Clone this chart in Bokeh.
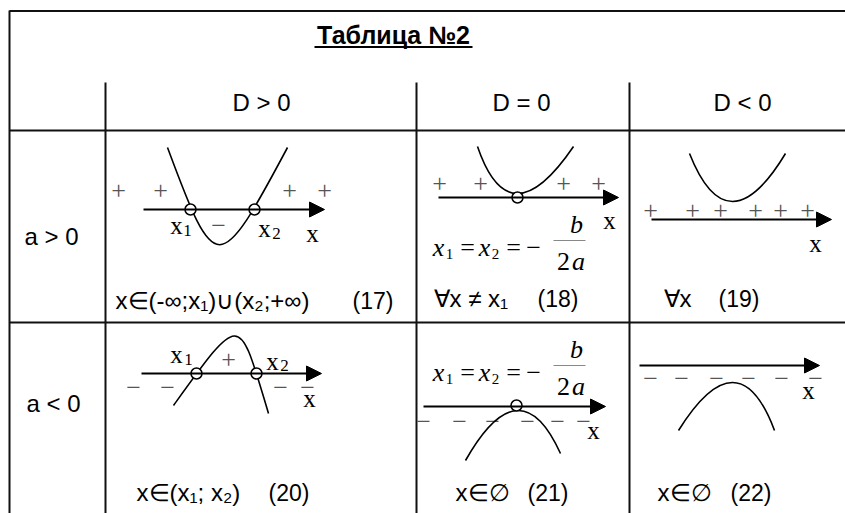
from bokeh.plotting import figure
from bokeh.models import Range1d, ColumnDataSource, Arrow, NormalHead
from bokeh.core.properties import value
from bokeh.embed import file_html
from bokeh.resources import INLINE

# ---------------- texts ----------------
title_text = "Таблица №2"
col_headers = ["D > 0", "D = 0", "D < 0"]
row_headers = ["a > 0", "a < 0"]
ans_expr = ["x∈(-∞;x₁)∪(x₂;+∞)", "∀x ≠ x₁", "∀x", "x∈(x₁; x₂)", "x∈∅", "x∈∅"]
ans_num = ["(17)", "(18)", "(19)", "(20)", "(21)", "(22)"]

# ---------------- table grid (page pixels) ----------------
hrule_y = [10.5, 130, 322]
hrule_x0 = [9, 9, 9]
hrule_x1 = [845, 845, 845]
vrule_x = [9, 105, 416, 629]
vrule_y0 = [10, 82, 82, 82]
vrule_y1 = [513, 513, 513, 513]

title_x, title_y = 393, 34
underline_x0, underline_x1, underline_y = 314, 472, 46.5
col_header_x = [261, 521, 742]
col_header_y = [102, 102, 102]
row_header_x = [51, 53]
row_header_y = [236, 403]
ans_expr_x = [115, 433, 663, 136, 455, 657]
ans_num_x = [352, 537, 718, 268, 527, 730]
ans_y = [300, 298, 298, 492, 492, 492]

# ---------------- number-line axes ----------------
axis_x0 = [143, 438, 651, 141, 423, 639]
axis_x1 = [324, 618, 831, 321, 605, 819]
axis_y = [209, 197, 219, 373, 406, 365]

# ---------------- parabolas ----------------
# skewed ones as cubic curves: (a>0, D>0) and (a<0, D>0)
cub_x0 = [167, 173]
cub_y0 = [147, 405]
cub_cx0 = [215, 242]
cub_cy0 = [276.6, 309]
cub_cx1 = [218, 238]
cub_cy1 = [276.6, 313]
cub_x1 = [287, 268]
cub_y1 = [147, 413]
# symmetric ones as quadratic curves
quad_x0 = [477, 689, 465, 678]
quad_y0 = [146, 153, 460, 430]
quad_cx = [509, 727, 519.5, 738]
quad_cy = [240, 249, 363.5, 334]
quad_x1 = [573, 785, 560, 774]
quad_y1 = [146, 153, 453, 430]

# roots (open circles)
root_x = [190, 254, 517, 196, 256, 516]
root_y = [209, 209, 197, 373, 373, 405]

# sign marks
plus_x = [118, 160, 289, 324, 439, 480, 563, 598, 650, 692, 720, 755, 780, 807, 228]
plus_y = [190, 190, 190, 190, 183, 183, 183, 183, 210, 210, 210, 210, 210, 210, 359]
minus_x = [218, 133, 167, 280, 307, 423, 459, 492, 527, 557, 583, 650, 681, 716, 748, 781, 815]
minus_y = [225, 387, 387, 387, 387, 421, 421, 421, 421, 421, 421, 378, 378, 378, 378, 378, 378]

# variable labels
var_text = ["x", "x", "x", "x", "x", "x", "x", "x", "x", "x"]
var_x = [176, 264, 312, 609, 815, 176, 272, 309, 593, 808]
var_y = [225, 228, 233, 220, 243, 354, 361, 398, 430, 390]
sub_text = ["1", "2", "1", "2"]
sub_x = [187, 276, 188, 284]
sub_y = [230, 233, 359, 365]

# formula  x1 = x2 = -b/2a  (two copies, keyed to fraction bar y)
frac_bar_y = [240, 365]
frac_bar_x0, frac_bar_x1 = 553, 585
f_ital_text = ["x", "x", "b", "a"]
f_ital_x = [438, 484, 576, 578]
f_ital_dy = [7, 7, -16, 21]
f_up_text = ["=", "=", "−", "2"]
f_up_x = [467, 513, 533, 563]
f_up_dy = [7, 7, 7, 21]
f_sub_text = ["1", "2"]
f_sub_x = [449, 495]
f_sub_dy = [13, 13]

SANS = value("Liberation Sans")
SERIF = value("Liberation Serif")

p = figure(width=845, height=513, output_backend="svg", toolbar_location=None,
           x_range=Range1d(0, 845), y_range=Range1d(513, 0),
           min_border=0, outline_line_color=None)
p.axis.visible = False
p.grid.visible = False
p.background_fill_color = "white"
p.border_fill_color = "white"

# grid
p.segment(x0=hrule_x0, y0=hrule_y, x1=hrule_x1, y1=hrule_y, line_color="#111111", line_width=2)
p.segment(x0=vrule_x, y0=vrule_y0, x1=vrule_x, y1=vrule_y1, line_color="#111111", line_width=2)

# title
p.text(x=[title_x], y=[title_y], text=[title_text], text_font=SANS, text_font_style="bold",
       text_font_size="25px", text_align="center", text_baseline="middle", text_color="black")
p.segment(x0=[underline_x0], y0=[underline_y], x1=[underline_x1], y1=[underline_y],
          line_color="black", line_width=2.2)

# headers
p.text(x=col_header_x, y=col_header_y, text=col_headers, text_font=SANS, text_font_size="24px",
       text_align="center", text_baseline="middle", text_color="black")
p.text(x=row_header_x, y=row_header_y, text=row_headers, text_font=SANS, text_font_size="24px",
       text_align="center", text_baseline="middle", text_color="black")

# answers
p.text(x=ans_expr_x, y=ans_y, text=ans_expr, text_font=SANS, text_font_size="24px",
       text_align="left", text_baseline="middle", text_color="black")
p.text(x=ans_num_x, y=ans_y, text=ans_num, text_font=SANS, text_font_size="23px",
       text_align="left", text_baseline="middle", text_color="black")

# signs
p.text(x=plus_x, y=plus_y, text=["+"] * len(plus_x), text_font=SERIF, text_font_size="26px",
       text_align="center", text_baseline="middle", text_color="#555555")
p.text(x=minus_x, y=minus_y, text=["−"] * len(minus_x), text_font=SERIF, text_font_size="26px",
       text_align="center", text_baseline="middle", text_color="#555555")

# curves
p.bezier(x0=cub_x0, y0=cub_y0, x1=cub_x1, y1=cub_y1, cx0=cub_cx0, cy0=cub_cy0,
         cx1=cub_cx1, cy1=cub_cy1, line_color="black", line_width=1.6)
p.quadratic(x0=quad_x0, y0=quad_y0, x1=quad_x1, y1=quad_y1, cx=quad_cx, cy=quad_cy,
            line_color="black", line_width=1.6)

# axes with arrows
src = ColumnDataSource(dict(x0=axis_x0, x1=axis_x1, y=axis_y))
p.add_layout(Arrow(end=NormalHead(size=15, fill_color="black", line_color="black", line_width=1),
                   x_start="x0", y_start="y", x_end="x1", y_end="y", source=src,
                   line_color="black", line_width=2))

# roots
p.scatter(x=root_x, y=root_y, size=11, marker="circle", fill_color="white",
          line_color="black", line_width=1.5)

# variable labels
p.text(x=var_x, y=var_y, text=var_text, text_font=SERIF, text_font_size="25px",
       text_align="center", text_baseline="middle", text_color="black")
p.text(x=sub_x, y=sub_y, text=sub_text, text_font=SERIF, text_font_size="17px",
       text_align="center", text_baseline="middle", text_color="black")

# formulas
for by in frac_bar_y:
    p.segment(x0=[frac_bar_x0], y0=[by], x1=[frac_bar_x1], y1=[by], line_color="#888888", line_width=1)
    p.text(x=f_ital_x, y=[by + d for d in f_ital_dy], text=f_ital_text, text_font=SERIF,
           text_font_style="italic", text_font_size="26px", text_align="center",
           text_baseline="middle", text_color="black")
    p.text(x=f_up_x, y=[by + d for d in f_up_dy], text=f_up_text, text_font=SERIF,
           text_font_size="26px", text_align="center", text_baseline="middle", text_color="black")
    p.text(x=f_sub_x, y=[by + d for d in f_sub_dy], text=f_sub_text, text_font=SERIF,
           text_font_size="15px", text_align="center", text_baseline="middle", text_color="black")

open("out.html", "w").write(file_html(p, INLINE))
